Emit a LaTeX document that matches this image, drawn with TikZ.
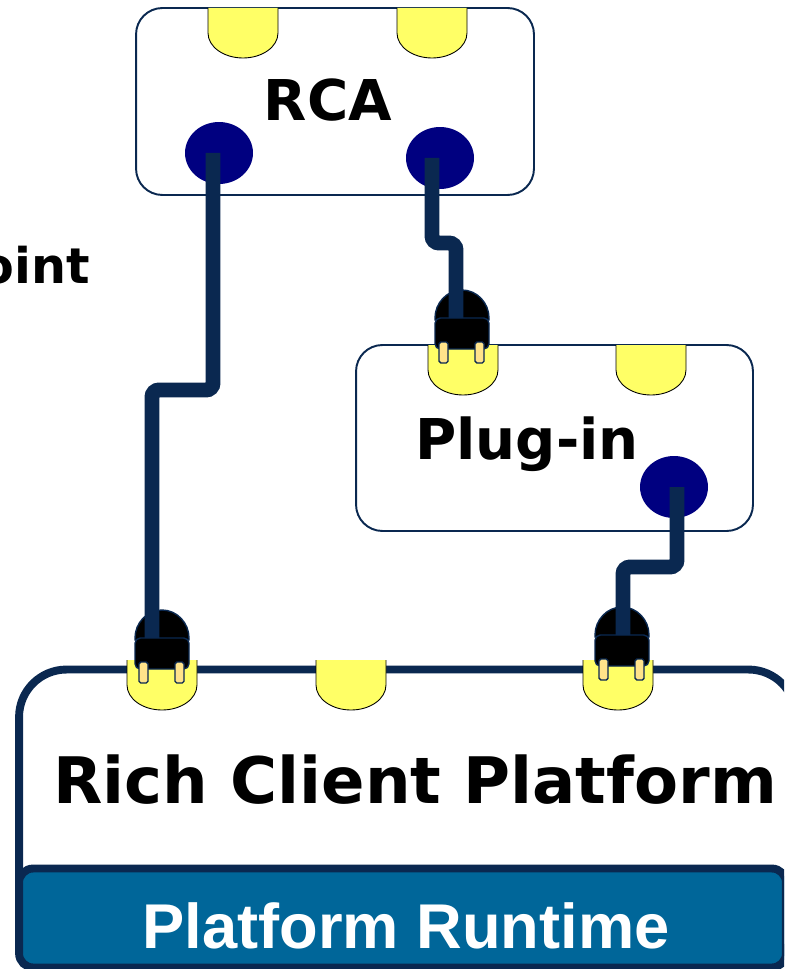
\documentclass[tikz,border=0pt]{standalone}
\usepackage{fontspec}
\setmainfont{DejaVu Sans}
\newfontfamily\runtimefont{Liberation Sans}
\usepackage{tikz}
\usetikzlibrary{shapes.geometric,calc}
\definecolor{Ink}{HTML}{0A2850}
\definecolor{PortBlue}{HTML}{000080}
\definecolor{Lemon}{HTML}{FFFF66}
\definecolor{Sand}{HTML}{FFE38A}
\definecolor{Steel}{HTML}{006699}

\tikzset{
  socket/.pic={
    \filldraw[fill=Lemon,draw=black,line width=0.5pt] (-35,0) -- (-35,25)
      .. controls (-35,39) and (-19,50) .. (0,50)
      .. controls (19,50) and (35,39) .. (35,25) -- (35,0);
  },
  plug/.pic={
    \filldraw[fill=black,draw=Ink,line width=0.8pt] (-27,2) -- (-27,0)
      .. controls (-27,-15) and (-15,-28) .. (0,-28)
      .. controls (15,-28) and (27,-15) .. (27,0) -- (27,2) -- cycle;
    \filldraw[fill=black,draw=Ink,line width=0.8pt,rounded corners=3pt] (-27,0) rectangle (27,31);
    \filldraw[fill=Sand,draw=Ink,line width=0.8pt,rounded corners=1pt] (-23,24) rectangle (-14,45);
    \filldraw[fill=Sand,draw=Ink,line width=0.8pt,rounded corners=1pt] (13,24) rectangle (22,45);
  }
}

\begin{document}
\begin{tikzpicture}[x=0.02cm,y=-0.02cm,
    card/.style={draw=Ink,line width=1.1pt,fill=white,rounded corners=15pt,inner sep=0pt},
    port/.style={ellipse,fill=PortBlue,inner sep=0pt,minimum width=1.36cm,minimum height=1.24cm},
    wire/.style={draw=Ink,line width=8.5pt,rounded corners=4pt},
    title/.style={font=\fontsize{32}{38}\selectfont\bfseries,inner sep=0pt,anchor=base}]
  \useasboundingbox (0,0) rectangle (784,969);
  \clip (0,0) rectangle (784,969);

  % platform with its runtime underneath
  \node[draw=Ink,line width=4.5pt,fill=white,rounded corners=27pt,inner sep=0pt,
    minimum width=15.54cm,minimum height=5.94cm] (rcp) at (407.5,818) {};
  \node[draw=Ink,line width=4.5pt,fill=Steel,rounded corners=8pt,inner sep=0pt,
    minimum width=15.34cm,minimum height=1.98cm] (runtime) at (402.5,918) {};
  \node[title,font=\fontsize{36.5}{44}\selectfont\bfseries] (rcpText) at (415,803) {Rich Client Platform};
  \node[title,text=white,font=\fontsize{36}{43}\selectfont\runtimefont\bfseries] (runtimeText) at (406,948) {Platform Runtime};

  \node[card,minimum width=7.96cm,minimum height=3.74cm] (rca) at (335,101.5) {};
  \node[card,minimum width=7.94cm,minimum height=3.72cm] (plugin) at (554.5,438) {};
  \node[title] (rcaText) at (328,121) {RCA};
  \node[title] (pluginText) at (527,459) {Plug-in};
  \node[title,anchor=base east,font=\fontsize{28}{34}\selectfont\bfseries] (pointText) at (90,283) {oint};

  \pic at (243,8) {socket};
  \pic at (432,8) {socket};
  \pic at (463,345) {socket};
  \pic at (651,345) {socket};
  \pic at (162,660) {socket};
  \pic at (351,660) {socket};
  \pic at (618,660) {socket};

  \node[port] (rcaL) at (219,153) {};
  \node[port] (rcaR) at (440,158) {};
  \node[port] (plugOut) at (674,487) {};

  \coordinate (plugA) at (162,638);
  \coordinate (plugB) at (462,318);
  \coordinate (plugC) at (622,635);
  \pic at (plugA) {plug};
  \pic at (plugB) {plug};
  \pic at (plugC) {plug};

  \coordinate (kneeA) at (152,390);
  \coordinate (kneeB) at (456,243);
  \coordinate (kneeC) at (623,567);
  \draw[wire] (rcaL.center) ++(-6,0) |- (kneeA) -- (kneeA |- plugA);
  \draw[wire] (rcaR.center) ++(-8,0) |- (kneeB) -- (kneeB |- plugB);
  \draw[wire] (plugOut.center) ++(3,0) |- (kneeC) -- (kneeC |- plugC);
\end{tikzpicture}
\end{document}
